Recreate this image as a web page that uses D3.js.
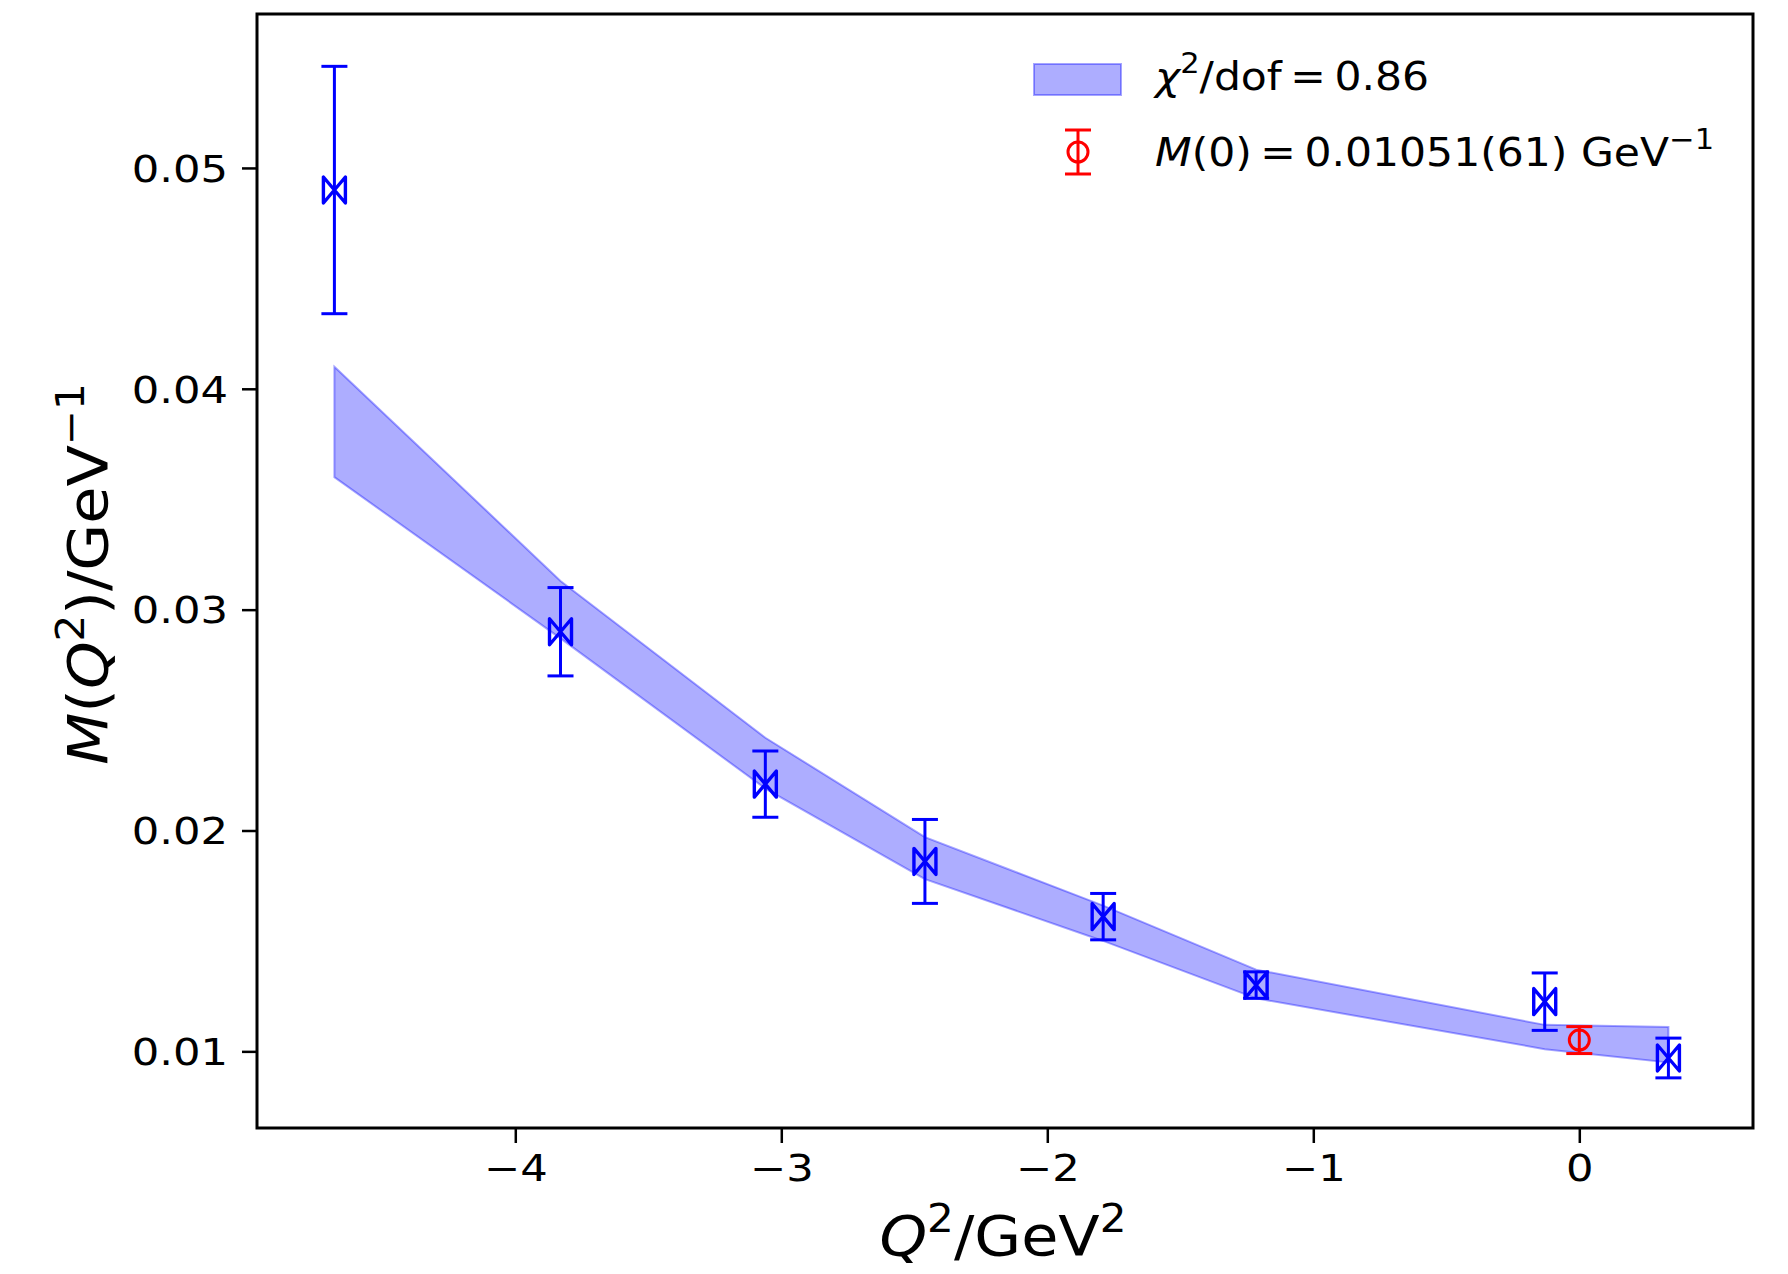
<!DOCTYPE html>
<html>
<head>
<meta charset="utf-8">
<script src="https://cdn.jsdelivr.net/npm/d3@7"></script>
<style>
  html, body { margin: 0; padding: 0; background: #fff; }
  svg { display: block; }
  text { font-family: "DejaVu Sans", sans-serif; fill: #000; }
</style>
</head>
<body>
<svg id="chart" width="1788" height="1274"></svg>
<script>
// Lattice data points: Q^2 (GeV^2), M(Q^2) (GeV^-1), uncertainty
const q2 = [-4.68, -3.83, -3.06, -2.46, -1.79, -1.215, -0.13, 0.335];
const mVal = [0.0490, 0.0290, 0.0221, 0.0186, 0.0161, 0.0130, 0.01225, 0.0097];
const mErr = [0.0056, 0.0020, 0.0015, 0.0019, 0.00105, 0.0006, 0.0013, 0.0009];

// Fit band (lower / upper edge) evaluated at the data abscissae
const bandLo = [0.0360, 0.0287, 0.0219, 0.0178, 0.0150, 0.0124, 0.0101, 0.0095];
const bandHi = [0.0410, 0.0313, 0.0242, 0.0197, 0.0166, 0.0137, 0.0112, 0.0111];

// Extrapolated value at Q^2 = 0
const m0X = [0];
const m0Val = [0.01051];
const m0Err = [0.00061];

const xTicks = [-4, -3, -2, -1, 0];
const yTicks = [0.01, 0.02, 0.03, 0.04, 0.05];

const svg = d3.select("#chart");
const L = 257, R = 1753, T = 14, B = 1128;

const x = d3.scaleLinear().domain([-4.971, 0.653]).range([L, R]);
const y = d3.scaleLinear().domain([0.00653, 0.05697]).range([B, T]);

const BLUE = "#0000ff", RED = "#ff0000";

// Fit band
const bandData = q2.map((q, i) => ({ q, lo: bandLo[i], hi: bandHi[i] }));
const area = d3.area().x(d => x(d.q)).y0(d => y(d.lo)).y1(d => y(d.hi));
svg.append("path")
  .datum(bandData)
  .attr("d", area)
  .attr("fill", "rgba(0,0,255,0.32)")
  .attr("stroke", "rgba(0,0,255,0.35)")
  .attr("stroke-width", 2);

// Error bars with caps
function errorBars(g, xs, vals, errs, color, capHalf) {
  xs.forEach((q, i) => {
    const cx = x(q), top = y(vals[i] + errs[i]), bot = y(vals[i] - errs[i]);
    g.append("line").attr("x1", cx).attr("x2", cx).attr("y1", top).attr("y2", bot)
      .attr("stroke", color).attr("stroke-width", 3);
    [top, bot].forEach(yy => {
      g.append("line").attr("x1", cx - capHalf).attr("x2", cx + capHalf)
        .attr("y1", yy).attr("y2", yy)
        .attr("stroke", color).attr("stroke-width", 3);
    });
  });
}

const gPts = svg.append("g");
errorBars(gPts, q2, mVal, mErr, BLUE, 13);

// Bowtie markers
const bw = 11, bh = 13;
q2.forEach((q, i) => {
  const cx = x(q), cy = y(mVal[i]);
  const p = `M${cx - bw},${cy - bh}L${cx - bw},${cy + bh}L${cx + bw},${cy - bh}L${cx + bw},${cy + bh}Z`;
  gPts.append("path").attr("d", p)
    .attr("fill", "none").attr("stroke", BLUE).attr("stroke-width", 3.4)
    .attr("stroke-linejoin", "round");
});

// Q^2 = 0 point
const gRed = svg.append("g");
errorBars(gRed, m0X, m0Val, m0Err, RED, 13);
m0X.forEach((q, i) => {
  gRed.append("circle").attr("cx", x(q)).attr("cy", y(m0Val[i])).attr("r", 10)
    .attr("fill", "none").attr("stroke", RED).attr("stroke-width", 3);
});

// Axes
const xAxis = d3.axisBottom(x).tickValues(xTicks).tickSize(15).tickPadding(10)
  .tickFormat(d => d < 0 ? "\u2212" + Math.abs(d) : String(d));
const gx = svg.append("g").attr("transform", `translate(0,${B})`).call(xAxis);
const yAxis = d3.axisLeft(y).tickValues(yTicks).tickSize(15).tickPadding(14)
  .tickFormat(d3.format(".2f"));
const gy = svg.append("g").attr("transform", `translate(${L},0)`).call(yAxis);

const TICK_FS = 37, TICK_SX = 1.17;
[gx, gy].forEach(g => {
  g.select(".domain").remove();
  g.selectAll(".tick line").attr("stroke", "#000").attr("stroke-width", 2.5);
  g.selectAll(".tick text").attr("font-size", TICK_FS).attr("font-family", "DejaVu Sans");
});
gx.selectAll(".tick text").attr("dy", "0.75em")
  .attr("transform", `scale(${TICK_SX},1)`);
gy.selectAll(".tick text").attr("dy", "0.36em")
  .each(function () {
    const t = d3.select(this);
    const tx = +t.attr("x");
    t.attr("x", 0).attr("transform", `translate(${tx},0) scale(${TICK_SX},1)`);
  });

// Frame
svg.append("rect").attr("x", L).attr("y", T).attr("width", R - L).attr("height", B - T)
  .attr("fill", "none").attr("stroke", "#000").attr("stroke-width", 3);

// Axis titles
const TITLE_FS = 56, SUP_FS = 39, SUP_DY = 23;
const xl = svg.append("text")
  .attr("transform", "translate(1003,1255) scale(1.08,1)")
  .attr("text-anchor", "middle").attr("font-size", TITLE_FS);
xl.append("tspan").attr("font-style", "italic").text("Q");
xl.append("tspan").attr("font-size", SUP_FS).attr("dy", -SUP_DY).text("2");
xl.append("tspan").attr("dy", SUP_DY).text("/GeV");
xl.append("tspan").attr("font-size", SUP_FS).attr("dy", -SUP_DY).text("2");

const yl = svg.append("text")
  .attr("transform", "translate(107,574) rotate(-90) scale(1.08,1)")
  .attr("text-anchor", "middle").attr("font-size", TITLE_FS);
yl.append("tspan").attr("font-style", "italic").text("M");
yl.append("tspan").text("(");
yl.append("tspan").attr("font-style", "italic").text("Q");
yl.append("tspan").attr("font-size", SUP_FS).attr("dy", -SUP_DY).text("2");
yl.append("tspan").attr("dy", SUP_DY).text(")/GeV");
yl.append("tspan").attr("font-size", SUP_FS).attr("dy", -SUP_DY).text("\u22121");

// Legend
const LEG_FS = 39, LEG_SUP = 28, LEG_DY = 17, LEG_SX = 1.09;
const lg = svg.append("g");
lg.append("rect").attr("x", 1034).attr("y", 64).attr("width", 87).attr("height", 31)
  .attr("fill", "rgba(0,0,255,0.32)").attr("stroke", "rgba(0,0,255,0.35)").attr("stroke-width", 2);
const t1 = lg.append("text")
  .attr("transform", `translate(1155,90) scale(${LEG_SX},1)`).attr("font-size", LEG_FS);
t1.append("tspan").attr("font-style", "italic").text("\u03c7");
t1.append("tspan").attr("font-size", LEG_SUP).attr("dy", -LEG_DY).text("2");
t1.append("tspan").attr("dy", LEG_DY).text("/dof\u2009=\u20090.86");

// red marker sample
const mx = 1078, my = 152;
lg.append("line").attr("x1", mx).attr("x2", mx).attr("y1", 130).attr("y2", 174)
  .attr("stroke", RED).attr("stroke-width", 3);
[130, 174].forEach(yy => lg.append("line").attr("x1", mx - 13).attr("x2", mx + 13)
  .attr("y1", yy).attr("y2", yy).attr("stroke", RED).attr("stroke-width", 3));
lg.append("circle").attr("cx", mx).attr("cy", my).attr("r", 10)
  .attr("fill", "none").attr("stroke", RED).attr("stroke-width", 3);

const t2 = lg.append("text")
  .attr("transform", `translate(1155,166) scale(${LEG_SX},1)`).attr("font-size", LEG_FS);
t2.append("tspan").attr("font-style", "italic").text("M");
t2.append("tspan").text("(0)\u2009=\u20090.01051(61) GeV");
t2.append("tspan").attr("font-size", LEG_SUP).attr("dy", -LEG_DY).text("\u22121");
</script>
</body>
</html>
